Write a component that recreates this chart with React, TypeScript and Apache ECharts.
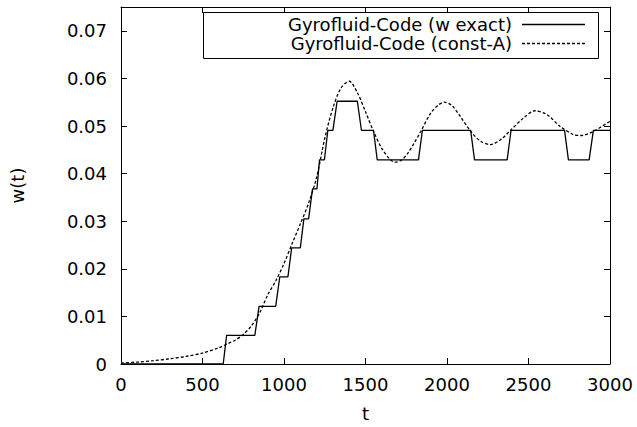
import React, { useEffect, useRef } from "react";
import * as echarts from "echarts";

// Staircase ("w exact") series: time t and w(t)
const exactT = [0, 627, 648, 821, 847, 949, 974, 1024, 1047, 1100, 1122, 1151, 1175, 1202, 1218, 1248, 1269, 1300, 1326, 1450, 1475, 1549, 1572, 1825, 1849, 2145, 2169, 2369, 2393, 2721, 2745, 2872, 2898, 3000];
const exactW = [0, 0, 0.0060, 0.0060, 0.0121, 0.0121, 0.0183, 0.0183, 0.0244, 0.0244, 0.0305, 0.0305, 0.0368, 0.0368, 0.0429, 0.0429, 0.0491, 0.0491, 0.0552, 0.0552, 0.0491, 0.0491, 0.0429, 0.0429, 0.0491, 0.0491, 0.0429, 0.0429, 0.0491, 0.0491, 0.0429, 0.0429, 0.0491, 0.0491];

// Smooth ("const-A") series
const constT = [0, 100, 200, 300, 400, 500, 600, 650, 700, 750, 800, 850, 900, 950, 1000, 1050, 1100, 1150, 1200, 1250, 1300, 1350, 1400, 1450, 1500, 1550, 1600, 1650, 1680, 1720, 1760, 1800, 1840, 1900, 1950, 1985, 2030, 2080, 2145, 2206, 2267, 2328, 2390, 2470, 2540, 2613, 2694, 2776, 2827, 2900, 3000];
const constW = [0.0002, 0.0004, 0.0007, 0.0011, 0.0016, 0.0023, 0.0034, 0.0042, 0.0050, 0.0062, 0.0080, 0.0107, 0.0145, 0.0175, 0.0211, 0.0253, 0.0294, 0.0337, 0.0392, 0.0474, 0.0538, 0.0580, 0.0594, 0.0570, 0.0530, 0.0488, 0.0453, 0.0430, 0.0424, 0.0428, 0.0443, 0.0465, 0.0489, 0.0527, 0.0545, 0.0550, 0.0543, 0.0521, 0.0489, 0.0468, 0.0461, 0.0471, 0.0491, 0.0517, 0.0532, 0.0524, 0.0499, 0.0482, 0.0480, 0.0489, 0.0510];

const seriesNames = ["Gyrofluid-Code (w exact)", "Gyrofluid-Code (const-A)"];
const xTicks = { min: 0, max: 3000, interval: 500 };
const yTicks = { min: 0, max: 0.075, interval: 0.01 };

const FONT = "DejaVu Sans, Liberation Sans, Arial, sans-serif";
const FS = 18;
const DASH = [3, 2];

export default function App() {
  const ref = useRef<HTMLDivElement>(null);
  useEffect(() => {
    if (!ref.current) return;
    const chart = echarts.init(ref.current, undefined, { renderer: "svg" });
    const axisCommon = {
      type: "value" as const,
      axisLine: { show: true, onZero: false, lineStyle: { color: "#000", width: 1 } },
      axisTick: { show: true, inside: true, length: 6, lineStyle: { color: "#000", width: 1 } },
      splitLine: { show: false },
    };
    const xFmt = (v: number) => String(v);
    const yFmt = (v: number) => (v === 0 ? "0" : Math.abs(v - 0.075) < 1e-9 ? "" : v.toFixed(2));
    const legendY = [24, 43];
    chart.setOption({
      animation: false,
      backgroundColor: "#fff",
      textStyle: { fontFamily: FONT },
      grid: { left: 119, right: 27, top: 7, bottom: 63, containLabel: false },
      xAxis: [
        {
          ...axisCommon,
          position: "bottom",
          ...xTicks,
          axisLabel: { color: "#000", fontSize: FS, fontFamily: FONT, margin: 11, formatter: xFmt },
          name: "t",
          nameLocation: "middle",
          nameGap: 40,
          nameTextStyle: { color: "#000", fontSize: FS, fontFamily: FONT },
        },
        {
          ...axisCommon,
          position: "top",
          ...xTicks,
          axisLabel: { show: false },
        },
      ],
      yAxis: [
        {
          ...axisCommon,
          position: "left",
          ...yTicks,
          axisLabel: { color: "#000", fontSize: FS, fontFamily: FONT, margin: 14, formatter: yFmt, showMaxLabel: false },
          name: "w(t)",
          nameLocation: "middle",
          nameGap: 95,
          nameRotate: 90,
          nameTextStyle: { color: "#000", fontSize: FS, fontFamily: FONT },
        },
        {
          ...axisCommon,
          position: "right",
          ...yTicks,
          axisLabel: { show: false },
        },
      ],
      graphic: [
        {
          type: "rect",
          shape: { x: 203.5, y: 12.5, width: 395, height: 46 },
          style: { fill: "#fff", stroke: "#000", lineWidth: 1 },
          silent: true,
          z: 10,
        },
        {
          type: "text",
          x: 512,
          y: legendY[0],
          style: { text: seriesNames[0], align: "right", verticalAlign: "middle", fill: "#000", font: `${FS}px ${FONT}` },
          z: 11,
        },
        {
          type: "text",
          x: 512,
          y: legendY[1],
          style: { text: seriesNames[1], align: "right", verticalAlign: "middle", fill: "#000", font: `${FS}px ${FONT}` },
          z: 11,
        },
        {
          type: "line",
          shape: { x1: 522, y1: legendY[0] + 0.5, x2: 585, y2: legendY[0] + 0.5 },
          style: { stroke: "#000", lineWidth: 1.3 },
          z: 11,
        },
        {
          type: "line",
          shape: { x1: 522, y1: legendY[1] + 0.5, x2: 585, y2: legendY[1] + 0.5 },
          style: { stroke: "#000", lineWidth: 1.3, lineDash: DASH },
          z: 11,
        },
      ],
      series: [
        {
          name: seriesNames[0],
          type: "line",
          data: exactT.map((t, i) => [t, exactW[i]]),
          symbol: "none",
          lineStyle: { color: "#000", width: 1.3, type: "solid" },
          itemStyle: { color: "#000" },
        },
        {
          name: seriesNames[1],
          type: "line",
          data: constT.map((t, i) => [t, constW[i]]),
          symbol: "none",
          smooth: 0.3,
          lineStyle: { color: "#000", width: 1.3, type: DASH },
          itemStyle: { color: "#000" },
        },
      ],
    });
    return () => chart.dispose();
  }, []);
  return <div ref={ref} style={{ width: 637, height: 427, position: "absolute", left: 0, top: 0 }} />;
}
